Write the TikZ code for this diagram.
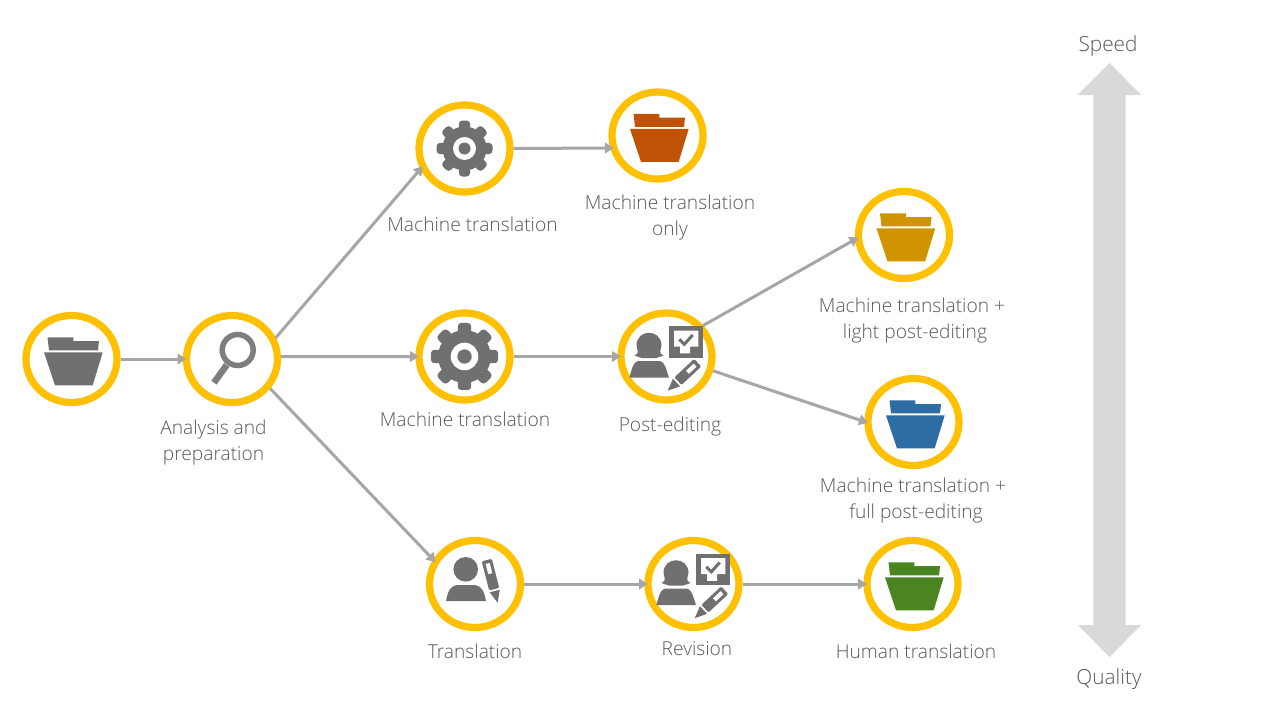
\documentclass[tikz,border=0pt]{standalone}
\usepackage{fontspec}
\setmainfont[UprightFont={* Light}]{Open Sans}
\usetikzlibrary{shapes.geometric,arrows.meta}
\definecolor{gold}{HTML}{FFC000}
\definecolor{icon}{HTML}{707070}
\definecolor{conn}{HTML}{A6A6A6}
\definecolor{band}{HTML}{D9D9D9}
\definecolor{lbl}{HTML}{595959}
\definecolor{fsrc}{HTML}{707070}
\definecolor{forange}{HTML}{BF5204}
\definecolor{famber}{HTML}{CF9400}
\definecolor{fblue}{HTML}{2E6CA4}
\definecolor{fgreen}{HTML}{4A8522}
\tikzset{
  ring/.style={ellipse,draw=gold,line width=7.2pt,minimum width=91pt,minimum height=87pt,inner sep=0pt,outer sep=0pt},
  link/.style={draw=conn,line width=3pt,shorten <=3.5pt,-{Triangle[length=9pt,width=10.5pt]}},
  lab/.style={text=lbl,font=\fontsize{19.2pt}{26pt}\selectfont,align=center,inner sep=0pt},
  biglab/.style={text=lbl,font=\fontsize{20.8pt}{26pt}\selectfont,inner sep=0pt},
  pics/folderico/.style={code={
    \fill[#1] (-24,-21.7) -- (1.8,-21.7) -- (1.8,-18) -- (27.5,-18) -- (26.5,-8.7) -- (-22.5,-8.7) -- cycle;
    \fill[#1] (-27.5,-6.7) -- (31.2,-6.7) -- (21.2,26.3) -- (-16.5,26.3) -- cycle;
  }},
  pics/gearico/.style={code={
    \begin{scope}[scale=#1]
    \fill[icon] (0,0) circle (22pt);
    \foreach \a in {0,45,...,315}
      \fill[icon,rotate=\a,rounded corners=3.5pt] (14,-5.6) rectangle (28,5.6);
    \fill[white] (0,0) circle (11.5pt);
    \fill[icon] (0,0) circle (6pt);
    \end{scope}
  }},
  pics/lensico/.style={code={
    \draw[icon!90!white,line width=5.5pt] (5.7,-9) circle (15.5pt);
    \draw[icon!90!white,line width=6.5pt] (-5.3,6) -- (-18,23.7);
  }},
  pics/pencilico/.style={code={
    \fill[icon] (0,0) -- (12,-5.2) -- (12,5.2) -- cycle;
    \fill[icon,rounded corners=1.2pt] (14,-5.2) rectangle (#1,5.2);
    \fill[white] (#1-14,-2.1) rectangle (#1-3.5,2.1);
  }},
  pics/reviewico/.style={code={
    \fill[icon] (-32,-1) .. controls (-26,-3) and (-30,-8) .. (-30,-11)
      .. controls (-30,-28) and (-5,-28) .. (-5,-11)
      .. controls (-5,-8) and (-9,-3) .. (-3,-1) -- (-10,1.5) -- (-25,1.5) -- cycle;
    \fill[icon] (-37.2,21.2) .. controls (-34,10) and (-33,6) .. (-28.5,4.5) -- (-6.5,4.5)
      .. controls (-2,6) and (-1,10) .. (2.5,21.2) -- cycle;
    \fill[icon] (2.5,-30.5) rectangle (36.5,1);
    \fill[white] (7.5,-25.8) -- (31.8,-25.8) -- (31.8,-9.8) -- (23.5,-9.8) -- (23.5,-3.2) -- (13.5,-3.2) -- (13.5,-9.8) -- (7.5,-9.8) -- cycle;
    \draw[icon,line width=3pt] (12.8,-17.2) -- (17.8,-12.2) -- (26.2,-21.5);
    \pic[shift={(1.2,34.2)},rotate=43] {pencilico=41};
  }},
  pics/transico/.style={code={
    \fill[icon] (-9.3,-14.7) circle (12.3pt);
    \fill[icon] (-29,17) .. controls (-27,6) and (-24,2) .. (-18.3,1) -- (0,1)
      .. controls (6,2) and (9,6) .. (11,17) -- cycle;
    \pic[shift={(22.7,18.7)},rotate=104.4] {pencilico=44};
  }},
}
\begin{document}
\begin{tikzpicture}[x=1pt,y=-1pt]
\path[use as bounding box,fill=white] (0,0) rectangle (1280,720);
% Speed / quality band
\fill[band] (1109.5,63) -- (1141,95) -- (1125.7,95) -- (1125.7,625) -- (1141,625) -- (1109.5,657)
  -- (1078,625) -- (1093.3,625) -- (1093.3,95) -- (1077.5,95) -- cycle;
\node[biglab] (speed) at (1108,46) {Speed};
\node[biglab] (quality) at (1109,679) {Quality};
% Rings
\node[ring] (src) at (71.5,359) {};
\node[ring] (ana) at (232,359) {};
\node[ring] (mta) at (464.5,148.5) {};
\node[ring] (fora) at (657.5,135.5) {};
\node[ring] (mtb) at (464.5,356.5) {};
\node[ring] (pe) at (666.5,356.5) {};
\node[ring] (foramb) at (904,235) {};
\node[ring] (forblu) at (913.5,422) {};
\node[ring] (tr) at (475,584) {};
\node[ring] (rev) at (693.5,584) {};
\node[ring] (forgrn) at (912.5,584) {};
% Icons
\pic at (src) {folderico=fsrc};
\pic at (fora) {folderico=forange};
\pic at (foramb) {folderico=famber};
\pic at (forblu) {folderico=fblue};
\pic at (forgrn) {folderico=fgreen};
\pic at (ana) {lensico};
\pic at (mta) {gearico=1};
\pic at (mtb) {gearico=1.2};
\pic at (pe) {reviewico};
\pic at (rev) {reviewico};
\pic at (tr) {transico};
% Connectors
\draw[link] (src.east) -- (ana.west);
\draw[link] (ana.24) -- (mta.203);
\draw[link] (ana.3) -- (mtb.west);
\draw[link] (ana.-37) -- (tr.151);
\draw[link] (mta.east) -- (fora.196);
\draw[link] (mtb.east) -- (pe.west);
\draw[link] (pe.41) -- (foramb.183);
\draw[link] (pe.-17) -- (forblu.181);
\draw[link] (tr.east) -- (rev.west);
\draw[link] (rev.east) -- (forgrn.west);
% Labels
\node[lab] (l1) at (472.5,224) {Machine translation};
\node[lab] (l2) at (670,217.5) {Machine translation\\only};
\node[lab] (l3) at (915,321) {Machine translation +\hspace*{6pt}\\light post-editing};
\node[lab] (l4) at (916,500.5) {Machine translation +\hspace*{6pt}\\full post-editing};
\node[lab] (l5) at (213.5,442.5) {Analysis and\\preparation};
\node[lab] (l6) at (465,419) {Machine translation};
\node[lab] (l7) at (670,427) {Post-editing};
\node[lab] (l8) at (475,651) {Translation};
\node[lab] (l9) at (697,649) {Revision};
\node[lab] (l10) at (916,651) {Human translation};
\end{tikzpicture}
\end{document}
